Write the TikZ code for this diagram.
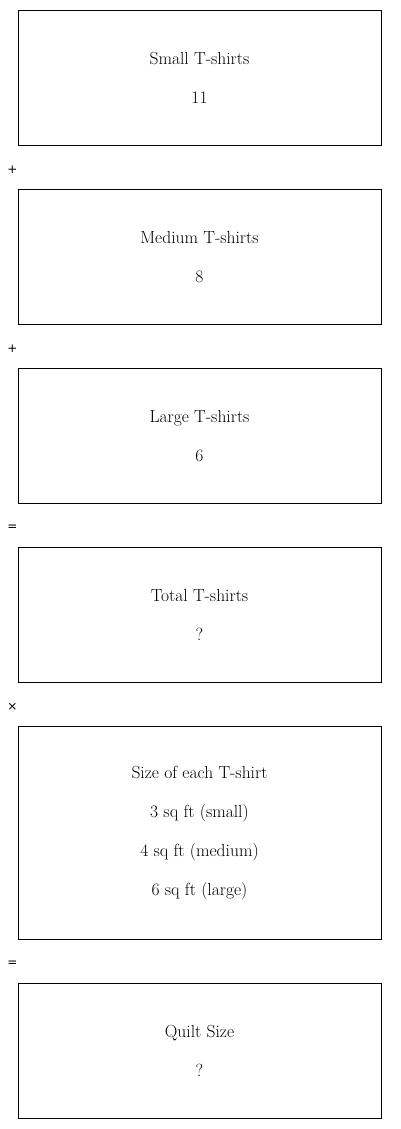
\documentclass[tikz,border=0pt]{standalone}
\usepackage{fontspec}
\newfontfamily\opfont{DejaVu Sans}
\usetikzlibrary{positioning}
\tikzset{
    stepbox/.style={draw, line width=1pt, minimum width=363pt, minimum height=135pt,
        align=center, inner sep=0pt, font=\fontsize{17.5}{39}\selectfont},
    opsign/.style={font=\opfont\fontsize{12}{14}\selectfont, inner sep=0pt}
}
\begin{document}
\begin{tikzpicture}[x=1pt,y=1pt]
    \useasboundingbox (0,0) rectangle (400,-1129);
    % the chain of quantities
    \node[stepbox] (small) at (199.5,-78) {Small T-shirts\\11};
    \node[stepbox, below=43pt of small] (medium) {Medium T-shirts\\8};
    \node[stepbox, below=43pt of medium] (large) {Large T-shirts\\6};
    \node[stepbox, below=43pt of large] (total) {Total T-shirts\\?};
    \node[stepbox, below=43pt of total, minimum height=213pt] (size)
        {Size of each T-shirt\\3 sq ft (small)\\4 sq ft (medium)\\6 sq ft (large)};
    \node[stepbox, below=43pt of size] (quilt) {Quilt Size\\?};
    % operators between the boxes
    \foreach \upper/\lower/\sign/\name in {small/medium/+/plusa, medium/large/+/plusb,
        large/total/=/eqa, total/size/{×}/times, size/quilt/=/eqb} {
        \path (\upper.south west) -- (\lower.north west)
            node[opsign, pos=0.55, xshift=-5pt] (\name) {\sign};
    }
\end{tikzpicture}
\end{document}
